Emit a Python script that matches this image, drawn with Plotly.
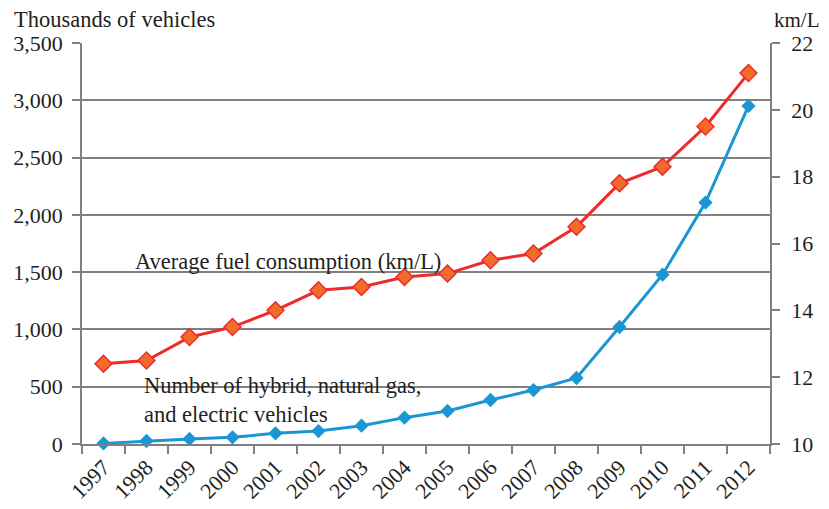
import plotly.graph_objects as go

years = ["1997", "1998", "1999", "2000", "2001", "2002", "2003", "2004",
         "2005", "2006", "2007", "2008", "2009", "2010", "2011", "2012"]
vehicles = [5, 26, 44, 58, 93, 113, 160, 230, 288, 384, 471, 576, 1021, 1478, 2107, 2951]
fuel_kmL = [12.4, 12.5, 13.2, 13.5, 14.0, 14.6, 14.7, 15.0, 15.1, 15.5, 15.7, 16.5, 17.8, 18.3, 19.5, 21.1]

FONT = "Liberation Serif"
TXT = "#231F20"
GRID = "#808080"
TS = 22
AS = 22.5

fig = go.Figure()
fig.add_trace(go.Scatter(
    x=years, y=vehicles, mode="lines+markers", yaxis="y",
    line=dict(color="#1A96D4", width=3),
    marker=dict(symbol="diamond", size=11, color="#1A96D4"),
    showlegend=False, cliponaxis=False))
fig.add_trace(go.Scatter(
    x=years, y=fuel_kmL, mode="lines+markers", yaxis="y2",
    line=dict(color="#EE2B2B", width=3),
    marker=dict(symbol="diamond", size=13, color="#F26B2A",
                line=dict(color="#EE2B2B", width=1.5)),
    showlegend=False, cliponaxis=False))

# the page body has an 8px margin, so the figure is sized to fit the window
fig.update_layout(
    width=821, height=501,
    margin=dict(l=74, r=59, t=35, b=65, autoexpand=False),
    paper_bgcolor="white", plot_bgcolor="white",
    font=dict(family=FONT, size=TS, color=TXT),
    xaxis=dict(type="category", tickson="boundaries", ticks="outside",
               ticklen=8, tickcolor=GRID, tickwidth=1.5, automargin=False,
               showgrid=False, showline=True, linecolor=GRID, linewidth=1.5,
               tickangle=-45, tickfont=dict(size=TS, family=FONT, color=TXT),
               range=[-0.5, 15.5]),
    yaxis=dict(range=[0, 3500], dtick=500, tickformat=",", ticks="outside",
               ticklen=8, tickcolor=GRID, tickwidth=1.5, automargin=False,
               ticklabelstandoff=5,
               showgrid=True, gridcolor=GRID, gridwidth=1.5,
               showline=True, linecolor=GRID, linewidth=1.5, zeroline=False,
               tickfont=dict(size=TS, family=FONT, color=TXT)),
    yaxis2=dict(range=[10, 22], dtick=2, overlaying="y", side="right",
                ticks="outside", ticklen=8, tickcolor=GRID, tickwidth=1.5,
                automargin=False, ticklabelstandoff=7,
                showgrid=False, showline=True, linecolor=GRID, linewidth=1.5,
                zeroline=False, tickfont=dict(size=TS, family=FONT, color=TXT)),
    annotations=[
        dict(text="Thousands of vehicles", xref="paper", yref="paper",
             x=-0.1017, y=1.058, xanchor="left", yanchor="middle",
             showarrow=False, font=dict(size=AS, family=FONT, color=TXT)),
        dict(text="km/L", xref="paper", yref="paper",
             x=1.003, y=1.058, xanchor="left", yanchor="middle",
             showarrow=False, font=dict(size=21, family=FONT, color=TXT)),
        dict(text="Average fuel consumption (km/L)", xref="paper", yref="paper",
             x=0.074, y=0.454, xanchor="left", yanchor="middle",
             showarrow=False, font=dict(size=AS, family=FONT, color=TXT)),
        dict(text="Number of hybrid, natural gas,<br>and electric vehicles",
             xref="paper", yref="paper", align="left",
             x=0.087, y=0.11, xanchor="left", yanchor="middle",
             showarrow=False, font=dict(size=AS, family=FONT, color=TXT)),
    ],
)

fig.write_html("out.html")
